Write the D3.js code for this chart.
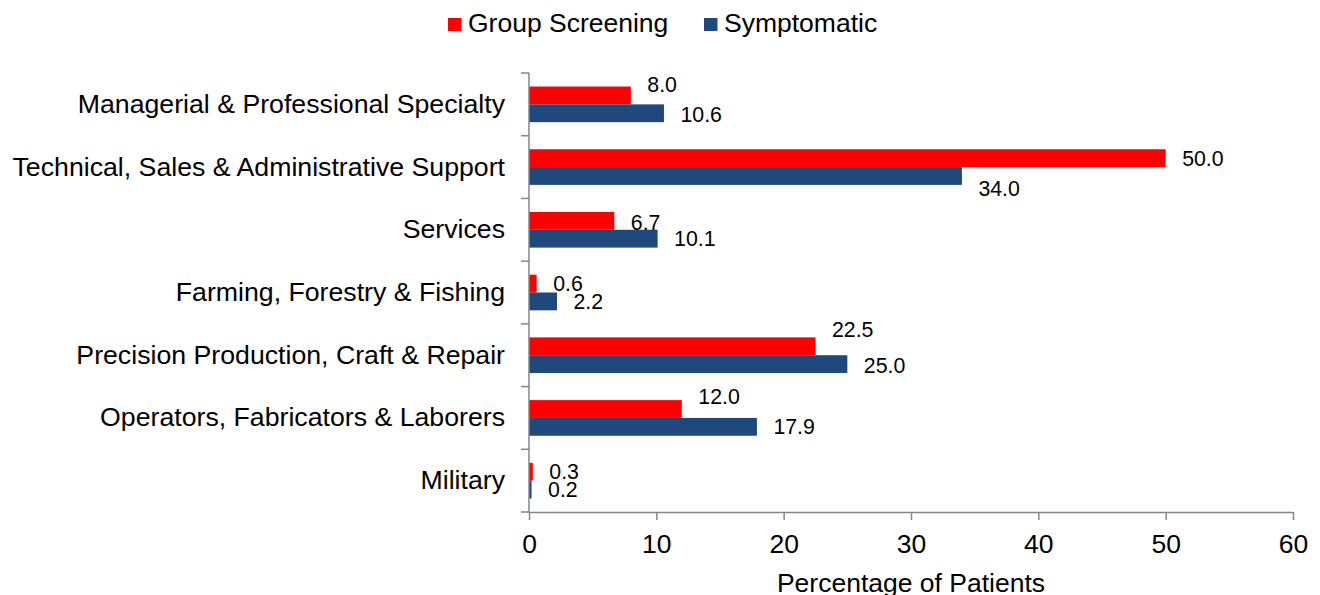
<!DOCTYPE html>
<html>
<head>
<meta charset="utf-8">
<script src="https://cdn.jsdelivr.net/npm/d3@7"></script>
<style>
  body { margin: 0; background: #fff; }
  text { font-family: "Liberation Sans", Arial, sans-serif; fill: #000; }
</style>
</head>
<body>
<svg id="chart" width="1320" height="595"></svg>
<script>
// occupations, top to bottom
var categories = ["Managerial & Professional Specialty", "Technical, Sales & Administrative Support",
  "Services", "Farming, Forestry & Fishing", "Precision Production, Craft & Repair",
  "Operators, Fabricators & Laborers", "Military"];
var seriesNames = ["Group Screening", "Symptomatic"];
var groupScreening = [8.0, 50.0, 6.7, 0.6, 22.5, 12.0, 0.3];
var symptomatic = [10.6, 34.0, 10.1, 2.2, 25.0, 17.9, 0.2];
var xTicks = [0, 10, 20, 30, 40, 50, 60];

// hand nudges of the data labels (vertical, px), like the original
var redLabelShift = [-11, 0, 1, 0, -17, -13, 0];
var blueLabelShift = [1, 12, 0, 0, 1, 0, 0];

var colors = {"Group Screening": "#ff0000", "Symptomatic": "#1f497d"};

var svg = d3.select("#chart");

var x = d3.scaleLinear().domain([0, 60]).range([529, 1293]);
var y = d3.scaleBand().domain(categories).range([73, 512]);
var sub = d3.scaleBand().domain(seriesNames).range([0, y.bandwidth()]).paddingOuter(0.76);

var rows = categories.map(function (c, i) {
  return {cat: c, i: i, vals: [
    {name: "Group Screening", v: groupScreening[i], shift: redLabelShift[i]},
    {name: "Symptomatic", v: symptomatic[i], shift: blueLabelShift[i]}
  ]};
});

// bars
var groups = svg.selectAll("g.row")
  .data(rows)
  .join("g")
  .attr("class", "row")
  .attr("transform", d => `translate(0,${y(d.cat)})`);

groups.selectAll("rect")
  .data(d => d.vals)
  .join("rect")
  .attr("x", x(0))
  .attr("y", d => sub(d.name))
  .attr("width", d => x(d.v) - x(0))
  .attr("height", sub.bandwidth())
  .attr("fill", d => colors[d.name]);

groups.selectAll("text.val")
  .data(d => d.vals)
  .join("text")
  .attr("class", "val")
  .attr("x", d => x(d.v) + 16.5)
  .attr("y", d => sub(d.name) + sub.bandwidth() / 2 + d.shift)
  .attr("dy", "0.36em")
  .attr("font-size", "21.3px")
  .text(d => d.v.toFixed(1));

// y axis: line with ticks at category boundaries
var axisColor = "#868686";
svg.append("line")
  .attr("x1", x(0)).attr("x2", x(0))
  .attr("y1", 73).attr("y2", 512)
  .attr("stroke", axisColor).attr("stroke-width", 1.5);

var bounds = categories.map(c => y(c)).concat([512]);
svg.selectAll("line.ytick")
  .data(bounds)
  .join("line")
  .attr("class", "ytick")
  .attr("x1", x(0) - 8).attr("x2", x(0))
  .attr("y1", d => d).attr("y2", d => d)
  .attr("stroke", axisColor).attr("stroke-width", 1.5);

svg.selectAll("text.cat")
  .data(categories)
  .join("text")
  .attr("class", "cat")
  .attr("x", 505)
  .attr("y", d => y(d) + y.bandwidth() / 2 + 8.5)
  .attr("text-anchor", "end")
  .attr("font-size", "26.7px")
  .text(d => d);

// x axis
var xAxis = svg.append("g")
  .attr("transform", "translate(0,512)")
  .call(d3.axisBottom(x).tickValues(xTicks).tickSize(8).tickPadding(14).tickSizeOuter(0));
xAxis.select(".domain").attr("stroke", axisColor).attr("stroke-width", 1.5);
xAxis.selectAll(".tick line").attr("stroke", axisColor).attr("stroke-width", 1.5);
xAxis.selectAll(".tick text")
  .attr("font-size", "26.5px")
  .attr("font-family", "Liberation Sans, Arial, sans-serif")
  .attr("fill", "#000");

svg.append("text")
  .attr("x", (x(0) + x(60)) / 2)
  .attr("y", 592)
  .attr("text-anchor", "middle")
  .attr("font-size", "26.5px")
  .text("Percentage of Patients");

// legend
var legendX = [448, 704];
var legend = svg.selectAll("g.legend")
  .data(seriesNames)
  .join("g")
  .attr("class", "legend")
  .attr("transform", (d, i) => `translate(${legendX[i]},0)`);
legend.append("rect")
  .attr("x", 0).attr("y", 18)
  .attr("width", 13.5).attr("height", 13)
  .attr("fill", d => colors[d]);
legend.append("text")
  .attr("x", 20).attr("y", 32)
  .attr("font-size", "26.5px")
  .text(d => d);
</script>
</body>
</html>
